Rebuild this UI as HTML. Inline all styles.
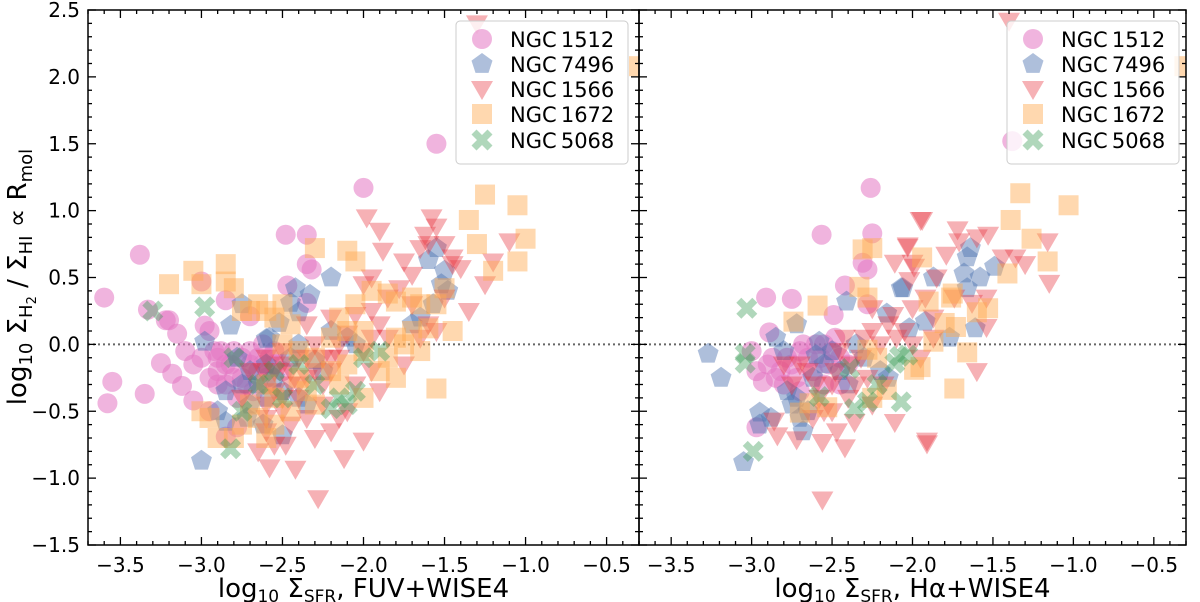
<!DOCTYPE html>
<html><head><meta charset="utf-8">
<style>
html,body{margin:0;padding:0;background:#fff;}
svg{display:block;font-family:"DejaVu Sans","Liberation Sans",sans-serif;}
</style></head>
<body>
<svg id="chart" width="1200" height="602" viewBox="0 0 1200 602" xmlns="http://www.w3.org/2000/svg"></svg>
<script>
// ---- data (x = log SFR, y = log ratio) ----
const galaxies = ["NGC 1512","NGC 7496","NGC 1566","NGC 1672","NGC 5068"];
const xTicks = [-3.5,-3.0,-2.5,-2.0,-1.5,-1.0,-0.5];
const xTickLabels = ["−3.5","−3.0","−2.5","−2.0","−1.5","−1.0","−0.5"];
const yTicks = [-1.5,-1.0,-0.5,0.0,0.5,1.0,1.5,2.0,2.5];
const yTickLabels = ["−1.5","−1.0","−0.5","0.0","0.5","1.0","1.5","2.0","2.5"];

// Left panel (FUV+WISE4)
const L1512x=[-3.6,-3.55,-3.58,-3.38,-3.35,-3.33,-3.22,-3.2,-3.15,-3.25,-3.18,-3.1,-3.12,-3.05,-3.05,-3.0,-2.98,-2.95,-2.9,-2.88,-2.85,-2.8,-2.78,-2.85,-2.7,-2.75,-2.65,-2.6,-2.55,-2.48,-2.47,-2.35,-2.35,-2.32,-2.35,-2.0,-1.55,-2.9,-2.95,-3.0,-2.82,-2.92,-2.72,-2.7,-2.62,-2.58,-2.5,-2.78,-2.85,-2.95,-2.9,-2.85,-2.8,-2.75,-2.7,-2.65,-2.6,-2.55,-2.68,-2.62];
const L1512y=[0.35,-0.28,-0.44,0.67,-0.37,0.26,0.18,0.18,0.08,-0.14,-0.22,-0.05,-0.31,-0.15,-0.42,0.47,0.14,0.1,-0.2,-0.05,0.33,-0.25,-0.62,-0.69,0.21,-0.1,-0.2,-0.3,-0.15,0.82,0.44,0.82,0.6,0.56,0.31,1.17,1.5,-0.3,-0.25,-0.1,-0.15,-0.05,-0.3,-0.05,0.0,-0.1,-0.2,-0.4,-0.15,-0.5,-0.1,-0.3,-0.05,-0.25,-0.15,-0.1,-0.25,-0.05,-0.35,-0.15];
const L7496x=[-3.0,-2.98,-2.9,-2.85,-2.82,-2.75,-2.72,-2.6,-2.58,-2.52,-2.45,-2.42,-2.4,-2.33,-2.2,-2.3,-2.5,-2.6,-2.7,-2.65,-2.55,-2.78,-2.45,-2.4,-2.25,-2.2,-2.1,-1.65,-1.6,-1.55,-1.5,-1.48,-1.52,-1.7,-2.05,-2.35,-2.62,-2.85,-1.57,-2.75,-2.7,-2.6,-2.5,-2.4];
const L7496y=[-0.87,0.02,-0.5,-0.58,0.14,0.3,-0.55,0.04,0.05,0.16,0.31,0.42,0.24,0.37,0.5,-0.12,-0.68,-0.4,-0.2,-0.3,-0.25,-0.1,-0.1,0.0,-0.2,0.1,0.05,0.2,0.63,0.72,0.55,0.4,0.45,0.15,0.0,-0.45,-0.6,-0.35,0.3,-0.3,-0.45,-0.15,-0.35,-0.4];
const L1566x=[-1.3,-1.98,-1.9,-1.88,-1.75,-1.65,-1.62,-1.58,-1.55,-1.6,-1.5,-1.45,-1.7,-1.78,-1.85,-1.95,-2.0,-1.95,-2.05,-1.9,-1.85,-1.95,-2.0,-2.1,-2.15,-2.2,-2.25,-2.3,-2.35,-2.4,-2.45,-2.5,-2.55,-2.6,-2.5,-2.45,-2.35,-2.25,-2.2,-2.15,-2.1,-2.3,-2.55,-2.65,-2.6,-2.58,-2.42,-2.28,-2.48,-2.7,-2.75,-2.12,-2.0,-1.9,-1.55,-1.6,-1.65,-1.45,-1.4,-1.25,-1.1,-1.2,-1.75,-2.2,-2.35,-2.05,-1.95,-2.4,-2.62,-1.5,-1.35,-1.7,-2.6,-2.55,-2.5,-2.45,-2.4,-2.35,-2.3,-2.25,-2.5,-2.6,-2.2,-2.15];
const L1566y=[2.4,0.95,0.85,0.7,0.62,0.72,0.82,0.95,0.88,0.75,0.75,0.6,0.52,0.42,0.35,0.5,0.45,0.25,0.22,0.15,0.05,0.05,-0.05,0.08,-0.1,-0.2,-0.1,0.0,-0.25,-0.1,-0.3,-0.05,-0.35,-0.45,-0.5,-0.6,-0.55,-0.45,-0.65,-0.55,-0.5,-0.7,-0.75,-0.8,-0.65,-0.92,-0.93,-1.15,-0.75,-0.2,-0.4,-0.85,-0.72,-0.35,0.1,0.15,0.05,0.65,0.57,0.45,0.77,0.62,-0.15,0.2,0.15,-0.3,-0.2,-0.4,-0.2,0.35,0.25,0.3,-0.1,-0.2,-0.15,-0.2,-0.3,-0.1,-0.2,-0.3,-0.4,-0.55,-0.1,0.0];
const L1672x=[-3.05,-3.2,-3.0,-2.85,-2.8,-2.85,-2.75,-2.7,-2.65,-2.6,-2.55,-2.5,-2.45,-2.3,-2.1,-2.05,-2.5,-2.4,-2.3,-2.2,-2.15,-2.35,-2.45,-2.55,-2.6,-2.7,-2.9,-2.95,-3.0,-2.75,-2.8,-2.65,-2.0,-1.95,-1.85,-1.8,-1.7,-1.65,-1.6,-1.7,-1.75,-1.8,-1.85,-1.9,-1.8,-1.65,-1.55,-1.5,-1.45,-1.35,-1.3,-1.25,-1.2,-1.05,-1.0,-1.05,-0.3,-1.55,-2.0,-2.1,-2.2,-2.05,-2.15,-2.6,-2.55,-2.4,-2.3,-2.1,-2.0];
const L1672y=[0.55,0.45,0.45,0.47,0.42,0.6,0.25,0.25,0.3,0.25,0.2,0.3,0.15,0.72,0.7,0.62,0.0,-0.05,-0.1,-0.2,-0.3,-0.35,-0.5,-0.6,-0.7,-0.45,-0.7,-0.55,-0.5,-0.6,-0.7,-0.55,-0.4,0.4,0.38,0.32,0.35,0.3,0.12,0.1,0.0,0.05,-0.1,-0.2,-0.25,-0.05,-0.33,0.42,0.1,0.93,0.75,1.12,0.55,1.04,0.79,0.62,2.08,0.3,-0.05,0.1,0.05,0.3,0.2,-0.3,-0.4,-0.25,-0.45,-0.15,0.1];
const L5068x=[-3.3,-2.98,-2.82,-2.8,-2.65,-2.5,-2.3,-2.15,-2.1,-2.05,-2.0,-1.9,-2.55,-2.4,-2.2,-2.75];
const L5068y=[0.25,0.28,-0.78,-0.1,-0.3,-0.4,-0.3,-0.4,-0.45,-0.35,-0.1,-0.05,-0.2,-0.15,-0.48,-0.5];

// Right panel (Halpha+WISE4)
const R1512x=[-2.26,-2.565,-2.25,-2.31,-2.28,-2.42,-2.91,-2.75,-2.28,-2.49,-2.89,-2.97,-1.38,-3.0,-2.97,-2.93,-2.9,-2.87,-2.85,-2.82,-2.78,-2.75,-2.72,-2.7,-2.68,-2.65,-2.62,-2.6,-2.57,-2.55,-2.52,-2.5,-2.48,-2.45,-2.45,-2.4,-2.8,-2.7,-2.55];
const R1512y=[1.17,0.82,0.83,0.61,0.56,0.44,0.35,0.34,0.3,0.22,0.09,-0.62,1.52,-0.05,-0.2,-0.28,-0.15,-0.1,-0.25,-0.2,-0.1,-0.15,-0.25,-0.05,0.0,-0.1,-0.2,0.0,-0.1,0.0,-0.15,-0.05,0.05,-0.1,-0.3,-0.15,-0.3,-0.35,-0.3];
const R7496x=[-3.27,-3.19,-3.05,-2.95,-2.95,-2.41,-2.16,-2.07,-1.87,-1.64,-1.66,-1.68,-1.58,-1.49,-1.66,-1.92,-2.02,-1.77,-1.61,-2.06,-2.85,-2.8,-2.78,-2.75,-2.72,-2.7,-2.68,-2.65,-2.62,-2.6,-2.58,-2.55,-2.5,-2.45,-2.4,-2.35,-2.3,-2.2,-2.15,-2.88,-2.72];
const R7496y=[-0.07,-0.25,-0.88,-0.51,-0.6,0.32,0.23,0.42,0.5,0.72,0.65,0.53,0.5,0.58,0.42,0.17,0.12,0.05,0.12,0.42,0.05,-0.05,-0.35,-0.45,-0.4,-0.55,-0.65,-0.5,-0.25,-0.08,0.02,-0.15,-0.05,-0.2,-0.3,0.0,-0.1,-0.2,-0.25,-0.55,0.15];
const R1566x=[-1.94,-2.03,-2.11,-2.0,-2.02,-2.25,-2.12,-2.11,-1.91,-2.56,-2.42,-2.56,-2.84,-2.72,-2.47,-2.36,-2.86,-1.95,-1.72,-1.53,-1.71,-1.79,-1.6,-2.03,-1.99,-1.44,-1.36,-1.3,-1.16,-1.15,-1.85,-1.74,-1.63,-1.54,-1.54,-1.92,-2.0,-1.87,-1.6,-1.91,-1.87,-1.4,-2.7,-2.65,-2.6,-2.58,-2.55,-2.5,-2.48,-2.45,-2.42,-2.4,-2.38,-2.35,-2.32,-2.3,-2.28,-2.25,-2.2,-2.18,-2.15,-2.1,-2.05,-2.0,-1.95,-2.25,-2.5,-2.62,-2.8,-2.75];
const R1566y=[0.93,0.74,0.61,0.61,0.48,0.27,0.22,-0.58,-0.74,-1.16,-0.77,-0.73,-0.68,-0.71,-0.65,-0.58,-0.57,0.93,0.86,0.82,0.77,0.67,0.8,0.73,0.58,0.65,0.65,0.6,0.77,0.46,0.5,0.35,0.31,0.35,0.13,0.35,0.27,0.2,-0.2,-0.72,0.05,2.42,-0.15,-0.2,-0.3,-0.4,-0.5,-0.3,-0.2,-0.05,0.05,-0.4,-0.15,-0.3,-0.1,0.05,-0.25,0.1,0.0,-0.3,0.15,0.05,0.1,0.0,-0.1,-0.45,-0.5,-0.55,-0.15,-0.3];
const R1672x=[-1.33,-1.03,-1.39,-1.26,-1.16,-1.41,-1.94,-1.76,-1.9,-1.53,-1.6,-1.8,-1.73,-1.66,-1.87,-1.99,-1.74,-0.31,-2.31,-2.25,-2.33,-2.28,-2.59,-2.74,-1.75,-2.28,-2.22,-1.95,-2.53,-2.25,-2.16,-2.64,-2.7];
const R1672y=[1.13,1.04,0.93,0.79,0.62,0.53,0.65,0.35,0.32,0.27,0.24,0.16,0.13,-0.06,0.02,-0.19,-0.33,2.08,0.71,0.72,0.43,0.35,0.29,0.17,0.38,-0.04,-0.1,-0.17,-0.47,-0.4,-0.34,-0.44,-0.51];
const R5068x=[-3.03,-2.99,-3.04,-3.04,-2.36,-2.28,-2.07,-2.11,-2.03,-2.39,-2.58,-2.22,-2.08];
const R5068y=[0.27,-0.8,-0.07,-0.14,-0.48,-0.43,-0.43,-0.14,-0.08,-0.18,-0.39,-0.3,-0.09];

// ---- layout ----
const svg=document.getElementById('chart');
const NS='http://www.w3.org/2000/svg';
const X0=-3.7,X1=-0.3,Y0=-1.5,Y1=2.5;
const TOP=10,BOT=545;
const panels=[{l:88,r:639,name:'left-panel',title:'FUV+WISE4',
  sets:[[L1512x,L1512y],[L7496x,L7496y],[L1566x,L1566y],[L1672x,L1672y],[L5068x,L5068y]],legX:456},
 {l:639,r:1186,name:'right-panel',title:'Hα+WISE4',
  sets:[[R1512x,R1512y],[R7496x,R7496y],[R1566x,R1566y],[R1672x,R1672y],[R5068x,R5068y]],legX:1007}];
const colors=['#e377c2','#4c72b0','#e8323c','#ffa94d','#3a9a55'];
const opac=[0.55,0.45,0.38,0.45,0.4];
const shapes=['circle','pentagon','tri','square','x'];
const yScale=v=>TOP+(Y1-v)/(Y1-Y0)*(BOT-TOP);

function mk(tag,attrs,parent){const e=document.createElementNS(NS,tag);for(const k in attrs)e.setAttribute(k,attrs[k]);(parent||svg).appendChild(e);return e;}
function marker(shape,cx,cy,color,op,parent){
  let e;
  if(shape==='circle') e=mk('circle',{cx:cx,cy:cy,r:10},parent);
  else if(shape==='square') e=mk('rect',{x:cx-10,y:cy-10,width:20,height:20},parent);
  else if(shape==='tri') e=mk('polygon',{points:`${cx-11},${cy-8} ${cx+11},${cy-8} ${cx},${cy+11}`},parent);
  else if(shape==='pentagon'){let p=[];for(let i=0;i<5;i++){const a=-Math.PI/2+i*2*Math.PI/5;p.push((cx+11*Math.cos(a)).toFixed(1)+','+(cy+11*Math.sin(a)).toFixed(1));}e=mk('polygon',{points:p.join(' ')},parent);}
  else {const s=8,w=5;e=mk('path',{d:`M${cx-s-w/2},${cy-s+w/2} L${cx-s+w/2},${cy-s-w/2} L${cx},${cy-w} L${cx+s-w/2},${cy-s-w/2} L${cx+s+w/2},${cy-s+w/2} L${cx+w},${cy} L${cx+s+w/2},${cy+s-w/2} L${cx+s-w/2},${cy+s+w/2} L${cx},${cy+w} L${cx-s+w/2},${cy+s+w/2} L${cx-s-w/2},${cy+s-w/2} L${cx-w},${cy} Z`},parent);}
  e.setAttribute('fill',color);e.setAttribute('fill-opacity',op);
  return e;
}
const defs=mk('defs',{});

panels.forEach((P,pi)=>{
  const xs=v=>P.l+(v-X0)/(X1-X0)*(P.r-P.l);
  const cp=mk('clipPath',{id:'clip'+pi},defs);
  mk('rect',{x:P.l,y:TOP,width:P.r-P.l,height:BOT-TOP},cp);
  const g=mk('g',{});
  
  
  const pg=mk('g',{'clip-path':'url(#clip'+pi+')'},g);
  // zero line
  const zl=mk('line',{x1:P.l,x2:P.r,y1:yScale(0),y2:yScale(0),stroke:'#666','stroke-width':2,'stroke-dasharray':'2,3'},pg);
  
  
  // points
  P.sets.forEach((s,si)=>{
    const sg=mk('g',{},pg);
    
    
    for(let i=0;i<s[0].length;i++){
      const m=marker(shapes[si],xs(s[0][i]),yScale(s[1][i]),colors[si],opac[si],sg);
      
      
    }
  });
  // frame
  const fr=mk('rect',{x:P.l,y:TOP,width:P.r-P.l,height:BOT-TOP,fill:'none',stroke:'#000','stroke-width':1.5},g);
  
  
  // x ticks
  for(let k=-37;k<=-3;k++){const v=k/10;const px=xs(v);const major=(k%5===0);const len=major?8:4;
    mk('line',{x1:px,x2:px,y1:BOT,y2:BOT-len,stroke:'#000','stroke-width':1.3},g);
    mk('line',{x1:px,x2:px,y1:TOP,y2:TOP+len,stroke:'#000','stroke-width':1.3},g);}
  xTicks.forEach((v,i)=>{const t=mk('text',{x:xs(v),y:572,'text-anchor':'middle','font-size':20},g);t.textContent=xTickLabels[i];
    
    });
  // y ticks
  for(let k=-15;k<=25;k++){const v=k/10;const py=yScale(v);const major=(k%5===0);const len=major?8:4;
    mk('line',{x1:P.l,x2:P.l+len,y1:py,y2:py,stroke:'#000','stroke-width':1.3},g);
    mk('line',{x1:P.r,x2:P.r-len,y1:py,y2:py,stroke:'#000','stroke-width':1.3},g);}
  if(pi===0){yTicks.forEach((v,i)=>{const t=mk('text',{x:80,y:yScale(v)+7,'text-anchor':'end','font-size':20},g);t.textContent=yTickLabels[i];
    
    });}
  // x title
  const xt=mk('text',{x:(P.l+P.r)/2,y:597,'text-anchor':'middle','font-size':26},g);
  xt.innerHTML='log<tspan font-size="17" dy="5">10</tspan><tspan dy="-5"> Σ</tspan><tspan font-size="17" dy="5">SFR</tspan><tspan dy="-5">, '+P.title+'</tspan>';
  
  
  // legend
  const lg=mk('g',{},g);
  
  
  mk('rect',{x:P.legX,y:21,width:172,height:143,rx:4,fill:'#fff','fill-opacity':0.8,stroke:'#ccc','stroke-width':1},lg);
  const ly=[39,64,89,114,140];
  galaxies.forEach((n,i)=>{
    const eg=mk('g',{},lg);
    
    
    marker(shapes[i],P.legX+26,ly[i],colors[i],opac[i],eg);
    const t=mk('text',{x:P.legX+54,y:ly[i]+8,'font-size':21},eg);t.textContent=n.replace(' ','\u2009');
  });
});
// y title
const yt=mk('text',{x:0,y:0,'text-anchor':'middle','font-size':26,transform:'translate(26,277) rotate(-90)'});
yt.innerHTML='log<tspan font-size="18" dy="6">10</tspan><tspan dy="-6"> Σ</tspan><tspan font-size="18" dy="6">H</tspan><tspan font-size="13" dy="4">2</tspan><tspan dy="-10"> / Σ</tspan><tspan font-size="18" dy="6">HI</tspan><tspan dy="-6">  ∝  R</tspan><tspan font-size="18" dy="6">mol</tspan>';


</script>
</body></html>
